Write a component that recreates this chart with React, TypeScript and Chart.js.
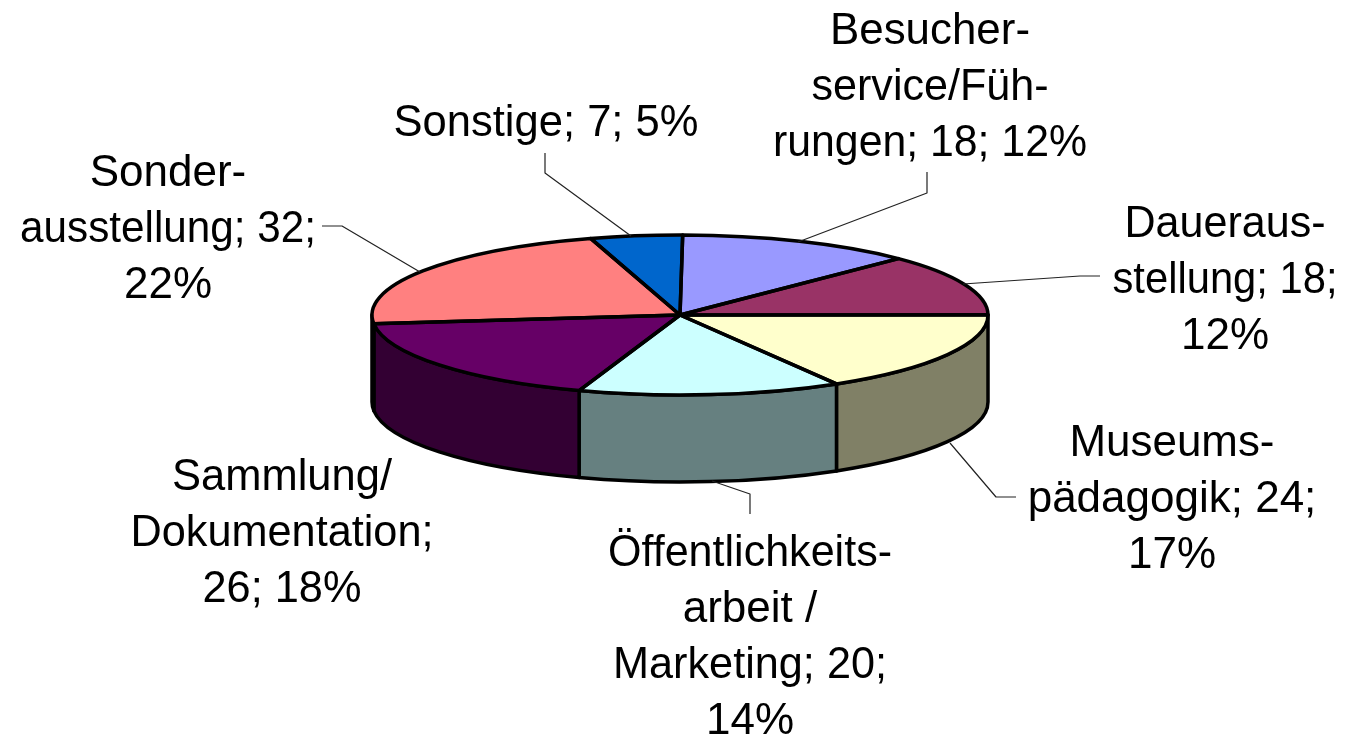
import React, { useEffect, useRef } from "react";
import { Chart, registerables } from "chart.js";

Chart.register(...registerables);

const categories = [
  "Besucherservice/Führungen",
  "Dauerausstellung",
  "Museumspädagogik",
  "Öffentlichkeitsarbeit / Marketing",
  "Sammlung/Dokumentation",
  "Sonderausstellung",
  "Sonstige",
];
const values = [18, 18, 24, 20, 26, 32, 7];
const topColors = ["#9999FF", "#993366", "#FFFFCC", "#CCFFFF", "#660066", "#FF8080", "#0066CC"];
const wallColors = ["#4C4C80", "#4C1933", "#808066", "#668080", "#330033", "#804040", "#003366"];

const labelLines = [
  ["Besucher-", "service/Füh-", "rungen; 18; 12%"],
  ["Daueraus-", "stellung; 18;", "12%"],
  ["Museums-", "pädagogik; 24;", "17%"],
  ["Öffentlichkeits-", "arbeit /", "Marketing; 20;", "14%"],
  ["Sammlung/", "Dokumentation;", "26; 18%"],
  ["Sonder-", "ausstellung; 32;", "22%"],
  ["Sonstige; 7; 5%"],
];
// Layout of the labels: centre x, first baseline y, and width limits per line
const labelX = [930, 1225, 1172, 750, 282, 168, 546];
const labelY = [44, 237, 456, 566, 490, 186, 136];
const labelMaxWidths = [
  [200, 237, 314],
  [201, 225, 90],
  [205, 290, 90],
  [284, 140, 274, 90],
  [220, 303, 159],
  [157, 296, 90],
  [305],
];
const leaderPaths = [
  [[927, 172], [927, 193], [798, 242]],
  [[1100, 276], [1080, 276], [963, 284]],
  [[1016, 497], [996, 497], [950, 443]],
  [[750, 514], [750, 494], [712, 481]],
  null,
  [[322, 226], [342, 226], [420, 272]],
  [[545, 153], [545, 173], [631, 236]],
];

const SQUASH = 80 / 308;
const DEPTH = 87;
const FONT = '44px "Liberation Sans", Arial, sans-serif';
const LINE_HEIGHT = 56;

const pie3d = {
  id: "pie3d",
  beforeDatasetsDraw(chart: any) {
    const ctx = chart.ctx;
    const arcs = chart.getDatasetMeta(0).data;
    ctx.save();
    ctx.lineJoin = "round";
    arcs.forEach((arc: any, i: number) => {
      const a = Math.max(arc.startAngle, 0);
      const b = Math.min(arc.endAngle, Math.PI);
      if (b <= a) return;
      const rx = arc.outerRadius;
      const ry = rx * SQUASH;
      ctx.beginPath();
      ctx.ellipse(arc.x, arc.y, rx, ry, 0, a, b);
      ctx.ellipse(arc.x, arc.y + DEPTH, rx, ry, 0, b, a, true);
      ctx.closePath();
      ctx.fillStyle = wallColors[i];
      ctx.fill();
      ctx.lineWidth = 3.5;
      ctx.strokeStyle = "#000";
      ctx.stroke();
    });
    ctx.restore();
    const first = arcs[0];
    ctx.save();
    ctx.translate(first.x, first.y);
    ctx.scale(1, SQUASH);
    ctx.translate(-first.x, -first.y);
  },
  afterDatasetsDraw(chart: any) {
    const ctx = chart.ctx;
    ctx.restore();
    const arcs = chart.getDatasetMeta(0).data;
    ctx.save();
    ctx.lineJoin = "round";
    ctx.strokeStyle = "#000";
    ctx.lineWidth = 3.5;
    arcs.forEach((arc: any) => {
      ctx.beginPath();
      ctx.moveTo(arc.x, arc.y);
      ctx.ellipse(arc.x, arc.y, arc.outerRadius, arc.outerRadius * SQUASH, 0, arc.startAngle, arc.endAngle);
      ctx.closePath();
      ctx.stroke();
    });
    ctx.lineWidth = 1.2;
    ctx.strokeStyle = "#222";
    leaderPaths.forEach((path) => {
      if (!path) return;
      ctx.beginPath();
      path.forEach(([x, y], k) => (k ? ctx.lineTo(x, y) : ctx.moveTo(x, y)));
      ctx.stroke();
    });
    ctx.fillStyle = "#000";
    ctx.font = FONT;
    ctx.textAlign = "center";
    ctx.textBaseline = "alphabetic";
    labelLines.forEach((lines, i) => {
      lines.forEach((line, k) =>
        ctx.fillText(line, labelX[i], labelY[i] + k * LINE_HEIGHT, labelMaxWidths[i][k])
      );
    });
    ctx.restore();
  },
};

export default function App() {
  const ref = useRef<HTMLCanvasElement>(null);
  useEffect(() => {
    document.body.style.margin = "0";
    const chart = new Chart(ref.current!, {
      type: "pie",
      data: {
        labels: categories,
        datasets: [{ data: values, backgroundColor: topColors, borderWidth: 0 }],
      },
      options: {
        animation: false,
        responsive: false,
        rotation: 0.5,
        layout: { padding: { left: 372, right: 359, top: 7, bottom: 114 } },
        plugins: { legend: { display: false }, tooltip: { enabled: false } },
      },
      plugins: [pie3d],
    } as any);
    return () => chart.destroy();
  }, []);
  return <canvas ref={ref} width={1347} height={737} style={{ display: "block" }} />;
}
